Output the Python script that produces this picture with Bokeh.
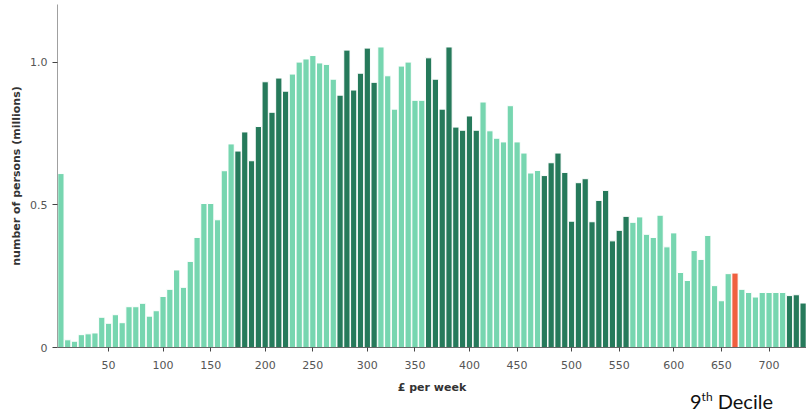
from bokeh.plotting import figure
from bokeh.models import Range1d, FixedTicker, ColumnDataSource, Div
from bokeh.layouts import column
from bokeh.embed import file_html
from bokeh.resources import INLINE

# number of persons (millions) per income band, left to right
persons = [
    0.610, 0.027, 0.022, 0.045, 0.048, 0.051, 0.106, 0.085, 0.115, 0.087,
    0.143, 0.143, 0.155, 0.110, 0.129, 0.179, 0.204, 0.272, 0.211, 0.302,
    0.386, 0.505, 0.505, 0.448, 0.620, 0.714, 0.689, 0.756, 0.655, 0.775,
    0.932, 0.825, 0.945, 0.899, 0.959, 1.001, 1.012, 1.024, 0.998, 0.993,
    0.941, 0.885, 1.043, 0.903, 0.962, 1.050, 0.930, 1.054, 0.953, 0.836,
    0.987, 1.001, 0.867, 0.867, 1.016, 0.941, 0.836, 1.054, 0.773, 0.762,
    0.812, 0.762, 0.861, 0.760, 0.734, 0.721, 0.848, 0.721, 0.682, 0.612,
    0.621, 0.603, 0.648, 0.682, 0.614, 0.443, 0.578, 0.592, 0.441, 0.516,
    0.551, 0.374, 0.411, 0.460, 0.439, 0.458, 0.397, 0.386, 0.464, 0.353,
    0.402, 0.263, 0.235, 0.340, 0.309, 0.393, 0.217, 0.164, 0.259, 0.261,
    0.204, 0.193, 0.177, 0.193, 0.193, 0.193, 0.193, 0.182, 0.185, 0.156,
]
# decile groups shown in dark (first band, last band), highlighted band
dark_deciles = [(26, 33), (41, 46), (54, 61), (71, 83), (107, 109)]
highlight_band = 99
# x tick labels (£ per week) and the band each one sits on
tick_labels = ["50", "100", "150", "200", "250", "300", "350",
               "400", "450", "500", "550", "600", "650", "700"]
tick_bands = [7, 15, 22, 30, 37, 45, 52, 60, 67, 75, 82, 90, 97, 104]
y_ticks = [0, 0.5, 1.0]
y_tick_labels = ["0", "0.5", "1.0"]

LIGHT = "#77d6b0"
DARK = "#267a5b"
RED = "#f0603f"

n = len(persons)
colors = []
for i in range(n):
    c = LIGHT
    for a, b in dark_deciles:
        if a <= i <= b:
            c = DARK
    if i == highlight_band:
        c = RED
    colors.append(c)

src = ColumnDataSource(dict(x=list(range(n)), top=persons, color=colors))

p = figure(width=806, height=396, output_backend="svg", toolbar_location=None,
           x_range=Range1d(-0.5, n - 0.5), y_range=Range1d(0, 1.203),
           min_border_left=57, min_border_right=0, min_border_top=4,
           min_border_bottom=48)
p.outline_line_color = None
p.grid.visible = False
p.background_fill_color = "white"
p.border_fill_color = "white"

p.vbar(x="x", top="top", width=0.92, bottom=0, source=src,
       fill_color="color", line_color="white", line_width=1)

# x axis
xa = p.xaxis[0]
xa.ticker = FixedTicker(ticks=tick_bands)
xa.major_label_overrides = {t: l for t, l in zip(tick_bands, tick_labels)}
xa.minor_tick_line_color = None
xa.major_tick_in = 0
xa.major_tick_out = 4
xa.axis_line_color = "#666666"
xa.major_tick_line_color = "#444444"
xa.major_label_text_font = "DejaVu Sans"
xa.major_label_text_font_size = "11px"
xa.major_label_text_color = "#555555"
xa.major_label_standoff = 9
xa.axis_label = "£ per week"
xa.axis_label_text_font = "DejaVu Sans"
xa.axis_label_text_font_size = "11px"
xa.axis_label_text_font_style = "bold"
xa.axis_label_text_color = "#333333"
xa.axis_label_standoff = 9

# y axis
ya = p.yaxis[0]
ya.ticker = FixedTicker(ticks=y_ticks)
ya.major_label_overrides = {t: l for t, l in zip(y_ticks, y_tick_labels)}
ya.minor_tick_line_color = None
ya.major_tick_in = 0
ya.major_tick_out = 5
ya.axis_line_color = "#a0a0a0"
ya.major_tick_line_color = "#444444"
ya.major_label_text_font = "DejaVu Sans"
ya.major_label_text_font_size = "11px"
ya.major_label_text_color = "#555555"
ya.major_label_standoff = 5
ya.axis_label = "number of persons (millions)"
ya.axis_label_text_font = "DejaVu Sans"
ya.axis_label_text_font_size = "11px"
ya.axis_label_text_font_style = "bold"
ya.axis_label_text_color = "#333333"
ya.axis_label_standoff = 4

caption = Div(text="9<sup style='font-size:12px'>th</sup> Decile",
              width=110, height=24, margin=(-9, 0, 0, 690),
              styles={"font-family": "Lato", "font-size": "20px",
                      "line-height": "20px", "color": "#111111",
                      "white-space": "nowrap"})

layout = column(p, caption, spacing=0)
open("out.html", "w").write(file_html(layout, INLINE))
